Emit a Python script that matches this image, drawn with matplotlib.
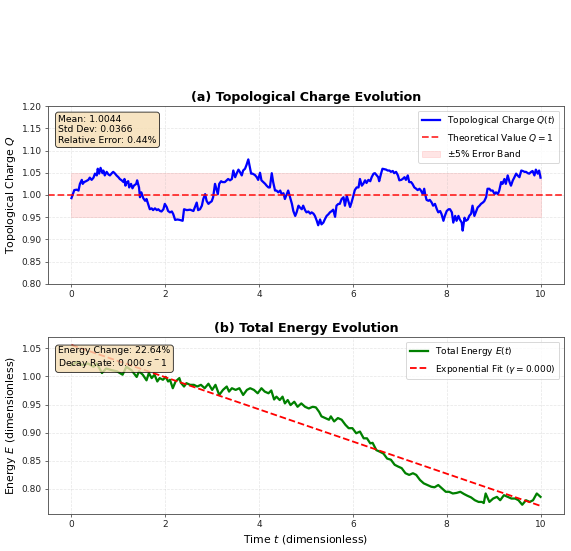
import matplotlib
matplotlib.use("Agg")
import matplotlib.pyplot as plt
import numpy as np

# topological charge Q(t)
charge_t = [
    0.00, 0.06, 0.11, 0.15, 0.18, 0.22, 0.24, 0.27, 0.31, 0.36,
    0.39, 0.43, 0.47, 0.50, 0.54, 0.56, 0.59, 0.62, 0.66, 0.68,
    0.71, 0.75, 0.79, 0.82, 0.86, 0.89, 0.93, 0.96, 1.00, 1.03,
    1.07, 1.11, 1.13, 1.15, 1.18, 1.21, 1.23, 1.27, 1.30, 1.33,
    1.38, 1.40, 1.44, 1.46, 1.49, 1.53, 1.57, 1.60, 1.64, 1.67,
    1.71, 1.74, 1.78, 1.82, 1.85, 1.89, 1.92, 1.96, 1.99, 2.03,
    2.06, 2.10, 2.14, 2.17, 2.21, 2.26, 2.31, 2.37,
    2.40, 2.46, 2.53, 2.60, 2.63, 2.67, 2.70, 2.74, 2.78, 2.81,
    2.85, 2.88, 2.92, 2.95, 2.99, 3.02, 3.06, 3.10, 3.12, 3.15,
    3.19, 3.22, 3.27, 3.31, 3.34, 3.38, 3.42, 3.45, 3.49, 3.52,
    3.56, 3.59, 3.63, 3.66, 3.70, 3.73, 3.77, 3.81, 3.83, 3.86,
    3.91, 3.95, 3.98, 4.02, 4.05, 4.09, 4.13, 4.16, 4.20, 4.23,
    4.27, 4.30, 4.34, 4.37, 4.41, 4.45, 4.48, 4.52, 4.55, 4.59,
    4.62, 4.66, 4.70, 4.73, 4.77, 4.80, 4.84, 4.87, 4.91, 4.94,
    4.98, 5.01, 5.05, 5.09, 5.12, 5.16, 5.19, 5.23, 5.26, 5.30,
    5.33, 5.37, 5.40, 5.44, 5.48, 5.51, 5.55, 5.58, 5.62, 5.65,
    5.69, 5.72, 5.76, 5.80, 5.83, 5.87, 5.90, 5.94, 5.97, 6.01,
    6.04, 6.08, 6.12, 6.15, 6.19, 6.22, 6.26, 6.29, 6.33, 6.37,
    6.40, 6.44, 6.47, 6.51, 6.54, 6.56, 6.60, 6.63, 6.67, 6.71,
    6.74, 6.78, 6.81, 6.85, 6.88, 6.92, 6.96, 6.99, 7.03, 7.06,
    7.10, 7.13, 7.17, 7.20, 7.24, 7.27, 7.31, 7.35, 7.38, 7.42,
    7.45, 7.49, 7.52,
    7.54, 7.57, 7.61, 7.64, 7.68, 7.71, 7.75, 7.79, 7.82, 7.86,
    7.89, 7.93, 7.96, 8.00, 8.04, 8.07, 8.11, 8.14, 8.18, 8.21,
    8.25, 8.28, 8.32, 8.34, 8.38, 8.41, 8.45, 8.48, 8.52, 8.55,
    8.59, 8.63, 8.66, 8.70, 8.73, 8.77, 8.80, 8.84, 8.87, 8.91,
    8.94, 8.98, 9.02, 9.05, 9.09, 9.12, 9.16, 9.19, 9.23, 9.26,
    9.30, 9.34, 9.37, 9.41, 9.44, 9.48, 9.51, 9.55, 9.59, 9.62,
    9.66, 9.69, 9.73, 9.76, 9.80, 9.83, 9.87, 9.90, 9.94, 9.97,
    10.00,
]
charge_q = [
    0.993, 1.011, 1.012, 1.010, 1.025, 1.034, 1.025, 1.029, 1.031, 1.034,
    1.039, 1.034, 1.039, 1.048, 1.044, 1.059, 1.048, 1.061, 1.049, 1.055,
    1.044, 1.052, 1.046, 1.044, 1.049, 1.052, 1.048, 1.044, 1.040, 1.036,
    1.033, 1.029, 1.036, 1.021, 1.029, 1.031, 1.017, 1.025, 1.015, 1.021,
    1.025, 1.033, 1.017, 0.995, 1.006, 0.993, 0.987, 0.991, 0.978, 0.968,
    0.970, 0.966, 0.970, 0.966, 0.968, 0.964, 0.963, 0.968, 0.980, 0.973,
    0.964, 0.961, 0.963, 0.957, 0.944, 0.945, 0.944, 0.942,
    0.968, 0.966, 0.967, 0.964, 0.972, 0.983, 0.966, 0.968, 0.976, 0.991,
    1.002, 0.987, 0.980, 0.983, 0.986, 0.995, 1.025, 1.010, 1.002, 1.025,
    1.031, 1.029, 1.029, 1.033, 1.036, 1.033, 1.036, 1.055, 1.040, 1.048,
    1.057, 1.052, 1.044, 1.055, 1.059, 1.067, 1.080, 1.059, 1.048, 1.048,
    1.045, 1.040, 1.034, 1.050, 1.033, 1.029, 1.025, 1.021, 1.017, 1.017,
    1.049, 1.029, 1.010, 1.010, 1.006, 1.010, 1.002, 1.004, 0.991, 1.002,
    1.010, 0.995, 0.980, 0.964, 0.953, 0.961, 0.976, 0.972, 0.968, 0.976,
    0.966, 0.961, 0.963, 0.958, 0.961, 0.958, 0.953, 0.942, 0.932, 0.945,
    0.934, 0.938, 0.945, 0.953, 0.957, 0.961, 0.964, 0.967, 0.951, 0.976,
    0.980, 0.980, 0.991, 0.995, 0.976, 0.998, 0.987, 0.973, 0.983, 0.998,
    1.011, 1.017, 1.017, 1.036, 1.021, 1.025, 1.033, 1.027, 1.034, 1.031,
    1.040, 1.048, 1.049, 1.044, 1.040, 1.031, 1.048, 1.059, 1.058, 1.057,
    1.055, 1.055, 1.052, 1.054, 1.049, 1.052, 1.044, 1.033, 1.034, 1.036,
    1.040, 1.034, 1.044, 1.029, 1.029, 1.025, 1.017, 1.014, 1.011, 1.014,
    1.010, 1.002, 1.014,
    1.002, 0.989, 0.987, 0.989, 0.983, 0.976, 0.980, 0.968, 0.961, 0.964,
    0.957, 0.942, 0.953, 0.964, 0.968, 0.968, 0.961, 0.938, 0.953, 0.942,
    0.953, 0.945, 0.938, 0.920, 0.949, 0.942, 0.945, 0.953, 0.958, 0.976,
    0.953, 0.964, 0.972, 0.976, 0.980, 0.983, 0.986, 0.995, 1.014, 1.014,
    1.010, 1.010, 1.002, 1.006, 1.002, 1.010, 1.029, 1.025, 1.036, 1.025,
    1.044, 1.029, 1.021, 1.033, 1.039, 1.048, 1.044, 1.040, 1.055, 1.054,
    1.052, 1.052, 1.049, 1.048, 1.052, 1.054, 1.044, 1.057, 1.048, 1.055,
    1.039,
]

# total energy E(t)
energy_t = [
    0.00, 0.12, 0.23, 0.35, 0.47, 0.54, 0.65, 0.74, 0.86, 0.97,
    1.09, 1.17, 1.28, 1.39, 1.44, 1.52, 1.60, 1.65, 1.71, 1.77,
    1.83, 1.88, 1.95, 2.01, 2.06, 2.10, 2.16, 2.22, 2.30, 2.33,
    2.40, 2.45, 2.53, 2.61, 2.68, 2.76, 2.84, 2.92, 3.00, 3.07,
    3.15, 3.23, 3.31, 3.36, 3.42, 3.50, 3.58, 3.66, 3.74, 3.81,
    3.89, 3.97, 4.05, 4.12, 4.20, 4.26, 4.32, 4.37, 4.44, 4.50,
    4.55, 4.61, 4.67, 4.75, 4.82, 4.90, 4.98, 5.06, 5.14, 5.21,
    5.28, 5.33, 5.41, 5.49, 5.53, 5.60, 5.68, 5.76, 5.84, 5.91,
    5.99, 6.07, 6.15, 6.23, 6.30, 6.37, 6.42, 6.50, 6.58, 6.65,
    6.73, 6.81, 6.89, 6.96, 7.04, 7.12, 7.20, 7.28, 7.35, 7.43,
    7.51, 7.59, 7.67, 7.74, 7.82, 7.90, 7.98, 8.05, 8.13, 8.21,
    8.29, 8.37, 8.44, 8.52, 8.60, 8.68, 8.75, 8.79, 8.83, 8.91,
    8.99, 9.07, 9.14, 9.22, 9.30, 9.38, 9.46, 9.53, 9.61, 9.69,
    9.77, 9.84, 9.92, 10.00,
]
energy_e = [
    1.020, 1.026, 1.020, 1.023, 1.017, 1.023, 1.006, 1.014, 1.011, 1.009,
    1.003, 1.017, 1.011, 0.999, 1.009, 1.003, 0.993, 1.006, 0.997, 1.003,
    0.991, 0.997, 0.994, 0.999, 0.991, 0.994, 0.979, 0.991, 0.997, 0.989,
    0.982, 0.988, 0.985, 0.985, 0.982, 0.985, 0.979, 0.987, 0.976, 0.985,
    0.967, 0.976, 0.982, 0.973, 0.979, 0.976, 0.979, 0.967, 0.976, 0.979,
    0.976, 0.970, 0.979, 0.973, 0.970, 0.975, 0.959, 0.964, 0.958, 0.964,
    0.952, 0.958, 0.949, 0.955, 0.946, 0.952, 0.946, 0.943, 0.946, 0.945,
    0.937, 0.929, 0.926, 0.923, 0.929, 0.920, 0.926, 0.923, 0.914, 0.908,
    0.908, 0.899, 0.902, 0.890, 0.890, 0.881, 0.882, 0.869, 0.866, 0.863,
    0.854, 0.852, 0.843, 0.840, 0.837, 0.828, 0.825, 0.828, 0.825, 0.816,
    0.810, 0.807, 0.804, 0.803, 0.807, 0.801, 0.795, 0.795, 0.792, 0.793,
    0.795, 0.791, 0.788, 0.785, 0.780, 0.777, 0.777, 0.775, 0.792, 0.777,
    0.783, 0.786, 0.780, 0.789, 0.786, 0.783, 0.783, 0.780, 0.772, 0.780,
    0.777, 0.780, 0.792, 0.786,
]

# fitted line end points
fit_t = [0.0, 10.0]
fit_e = [1.0557, 0.770]

q_theory = 1.0
band = 0.05

charge_stats = "Mean: 1.0044\nStd Dev: 0.0366\nRelative Error: 0.44%"
energy_stats = "Energy Change: 22.64%\nDecay Rate: 0.000 $s^-1$"

assert len(charge_t) == len(charge_q)
assert len(energy_t) == len(energy_e)

DPI = 65
fig = plt.figure(figsize=(571 / DPI, 551 / DPI), dpi=DPI)
ax1 = fig.add_axes([0.0841, 0.4846, 0.9036, 0.3230])
ax2 = fig.add_axes([0.0841, 0.0672, 0.9036, 0.3212])

box = dict(boxstyle="round", facecolor="wheat", alpha=0.8)

# (a) topological charge
ax1.plot(charge_t, charge_q, color="blue", linewidth=2.5, label="Topological Charge $Q(t)$")
ax1.axhline(q_theory, color="red", linestyle="--", linewidth=2, alpha=0.8,
            label="Theoretical Value $Q=1$")
ax1.fill_between([charge_t[0], charge_t[-1]], q_theory - band, q_theory + band,
                 color="red", alpha=0.1, label="$\\pm$5% Error Band")
ax1.set_ylim(0.80, 1.20)
ax1.set_xlim(-0.5, 10.5)
ax1.set_ylabel("Topological Charge $Q$", fontsize=12)
ax1.set_title("(a) Topological Charge Evolution", fontsize=14, fontweight="bold")
ax1.grid(True, alpha=0.3, linestyle="--")
ax1.legend(loc="upper right", fontsize=10)
ax1.text(0.02, 0.95, charge_stats, transform=ax1.transAxes, fontsize=10.3,
         verticalalignment="top", bbox=box)

# (b) total energy
ax2.plot(energy_t, energy_e, color="green", linewidth=2.5, label="Total Energy $E(t)$")
ax2.plot(fit_t, fit_e, color="red", linestyle="--", linewidth=2,
         label="Exponential Fit ($\\gamma=0.000$)")
ax2.set_xlim(-0.5, 10.5)
ax2.set_ylim(0.7556, 1.070)
ax2.set_xlabel("Time $t$ (dimensionless)", fontsize=12)
ax2.set_ylabel("Energy $E$ (dimensionless)", fontsize=12)
ax2.set_title("(b) Total Energy Evolution", fontsize=14, fontweight="bold")
ax2.grid(True, alpha=0.3, linestyle="--")
ax2.legend(loc="upper right", fontsize=10)
ax2.text(0.02, 0.95, energy_stats, transform=ax2.transAxes, fontsize=10.3,
         verticalalignment="top", bbox=box)

for ax in (ax1, ax2):
    for spine in ax.spines.values():
        spine.set_edgecolor("#555555")
        spine.set_linewidth(1.0)
    ax.tick_params(colors="#333333", labelcolor="#222222")

fig.savefig("out.png", dpi=DPI)
